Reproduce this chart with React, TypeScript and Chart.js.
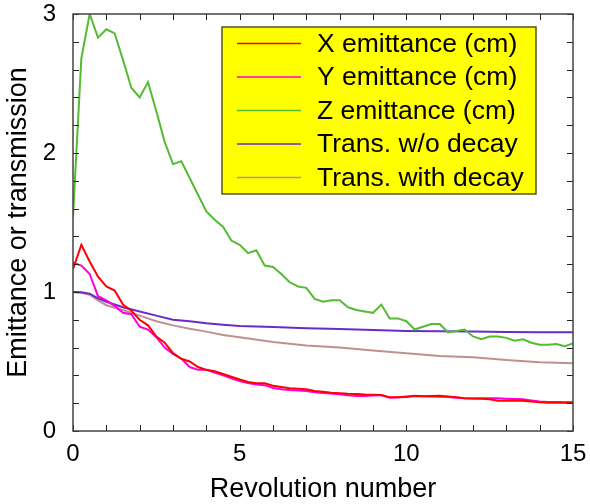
import React, { useEffect, useRef } from "react";
import { Chart, registerables } from "chart.js";

Chart.register(...registerables);

const revolution = [
  0, 0.25, 0.5, 0.75, 1, 1.25, 1.5, 1.75, 2, 2.25, 2.5, 2.75, 3, 3.25, 3.5, 3.75, 4, 4.25, 4.5, 4.75,
  5, 5.25, 5.5, 5.75, 6, 6.25, 6.5, 6.75, 7, 7.25, 7.5, 7.75, 8, 8.25, 8.5, 8.75, 9, 9.25, 9.5, 9.75,
  10, 10.25, 10.5, 10.75, 11, 11.25, 11.5, 11.75, 12, 12.25, 12.5, 12.75, 13, 13.25, 13.5, 13.75, 14,
  14.25, 14.5, 14.75, 15,
];

const xEmittance = [
  1.165, 1.34, 1.22, 1.11, 1.04, 1.01, 0.91, 0.865, 0.8, 0.76, 0.68, 0.635, 0.56, 0.52, 0.5, 0.46, 0.44,
  0.43, 0.41, 0.39, 0.37, 0.352, 0.343, 0.343, 0.326, 0.316, 0.307, 0.304, 0.3, 0.288, 0.283, 0.276,
  0.272, 0.268, 0.266, 0.262, 0.26, 0.259, 0.242, 0.242, 0.245, 0.252, 0.25, 0.252, 0.254, 0.248, 0.242,
  0.236, 0.234, 0.232, 0.228, 0.218, 0.218, 0.219, 0.218, 0.212, 0.206, 0.204, 0.205, 0.204, 0.204,
];

const yEmittance = [
  1.21, 1.19, 1.13, 0.97, 0.94, 0.9, 0.85, 0.84, 0.75, 0.73, 0.675, 0.6, 0.555, 0.52, 0.46, 0.44, 0.44,
  0.42, 0.4, 0.38, 0.36, 0.345, 0.335, 0.33, 0.31, 0.3, 0.295, 0.292, 0.288, 0.278, 0.274, 0.27, 0.265,
  0.258, 0.252, 0.252, 0.255, 0.259, 0.24, 0.242, 0.248, 0.254, 0.25, 0.248, 0.247, 0.244, 0.24, 0.235,
  0.234, 0.235, 0.236, 0.235, 0.232, 0.23, 0.228, 0.22, 0.212, 0.208, 0.208, 0.207, 0.208,
];

const zEmittance = [
  1.54, 2.68, 3.0, 2.83, 2.89, 2.86, 2.67, 2.47, 2.4, 2.51, 2.3, 2.08, 1.92, 1.94, 1.82, 1.7, 1.58, 1.52,
  1.47, 1.37, 1.34, 1.28, 1.3, 1.19, 1.18, 1.13, 1.07, 1.04, 1.03, 0.95, 0.93, 0.94, 0.94, 0.89, 0.87,
  0.86, 0.85, 0.91, 0.81, 0.81, 0.79, 0.73, 0.75, 0.77, 0.77, 0.71, 0.72, 0.73, 0.68, 0.66, 0.68, 0.68,
  0.67, 0.65, 0.66, 0.635, 0.62, 0.62, 0.625, 0.61, 0.63,
];

const transRevolution = [0, 0.25, 0.5, 0.75, 1, 1.5, 2, 2.5, 3, 3.5, 4, 4.5, 5, 6, 7, 8, 9, 10, 11, 12, 13, 14, 15];
const transNoDecay = [
  1.0, 0.998, 0.988, 0.955, 0.93, 0.89, 0.86, 0.83, 0.8, 0.79, 0.775, 0.765, 0.755, 0.748, 0.74, 0.733,
  0.727, 0.72, 0.718, 0.715, 0.713, 0.711, 0.71,
];
const transWithDecay = [
  1.0, 0.995, 0.98, 0.94, 0.905, 0.87, 0.83, 0.79, 0.76, 0.735, 0.715, 0.69, 0.675, 0.64, 0.615, 0.6,
  0.58, 0.56, 0.54, 0.53, 0.51, 0.495, 0.487,
];

const seriesLabels = [
  "X emittance (cm)",
  "Y emittance (cm)",
  "Z emittance (cm)",
  "Trans. w/o decay",
  "Trans. with decay",
];
const seriesColors = ["#ff0000", "#ff00dd", "#55bb33", "#6a2bc8", "#c09090"];

const xMinorTicks = [0, 1, 2, 3, 4, 5, 6, 7, 8, 9, 10, 11, 12, 13, 14, 15];
const yMinorTicks = [0, 0.2, 0.4, 0.6, 0.8, 1, 1.2, 1.4, 1.6, 1.8, 2, 2.2, 2.4, 2.6, 2.8, 3];

const FONT = "'Liberation Sans', Arial, sans-serif";

const pairs = (xs: number[], ys: number[]) => ys.map((y, i) => ({ x: xs[i], y }));

const framePlugin = {
  id: "frameTicksLegend",
  afterDraw(chart: any) {
    const { ctx, chartArea } = chart;
    const xs = chart.scales.x;
    const ys = chart.scales.y;
    const { left, right, top, bottom } = chartArea;
    ctx.save();
    // ticks
    ctx.strokeStyle = "#222";
    ctx.lineWidth = 1;
    const len = 6;
    ctx.beginPath();
    xMinorTicks.forEach((v) => {
      const px = Math.round(xs.getPixelForValue(v)) + 0.5;
      ctx.moveTo(px, bottom);
      ctx.lineTo(px, bottom - len);
      ctx.moveTo(px, top);
      ctx.lineTo(px, top + len);
    });
    yMinorTicks.forEach((v) => {
      const py = Math.round(ys.getPixelForValue(v)) + 0.5;
      ctx.moveTo(left, py);
      ctx.lineTo(left + len, py);
      ctx.moveTo(right, py);
      ctx.lineTo(right - len, py);
    });
    ctx.stroke();
    // frame
    ctx.strokeStyle = "#444";
    ctx.lineWidth = 1.5;
    ctx.strokeRect(left, top, right - left, bottom - top);

    // legend
    const lx = left + 149;
    const ly = top + 13;
    const lw = 314;
    const lh = 167;
    ctx.fillStyle = "#ffff00";
    ctx.fillRect(lx, ly, lw, lh);
    ctx.strokeStyle = "#555522";
    ctx.lineWidth = 1.5;
    ctx.strokeRect(lx, ly, lw, lh);
    ctx.font = `26.5px ${FONT}`;
    ctx.textBaseline = "middle";
    ctx.textAlign = "left";
    chart.data.datasets.forEach((ds: any, i: number) => {
      const ry = ly + 16.5 + i * 33.5;
      ctx.strokeStyle = ds.borderColor;
      ctx.lineWidth = 1.6;
      ctx.beginPath();
      ctx.moveTo(lx + 15, ry);
      ctx.lineTo(lx + 79, ry);
      ctx.stroke();
      ctx.fillStyle = "#000";
      ctx.fillText(ds.label, lx + 95, ry + 1);
    });
    ctx.restore();
  },
};

export default function App() {
  const ref = useRef<HTMLCanvasElement | null>(null);

  useEffect(() => {
    if (!ref.current) return;
    const seriesData = [
      pairs(revolution, xEmittance),
      pairs(revolution, yEmittance),
      pairs(revolution, zEmittance),
      pairs(transRevolution, transNoDecay),
      pairs(transRevolution, transWithDecay),
    ];
    const chart = new Chart(ref.current, {
      type: "line",
      data: {
        datasets: seriesData.map((d, i) => ({
          label: seriesLabels[i],
          data: d,
          borderColor: seriesColors[i],
          backgroundColor: seriesColors[i],
          borderWidth: 2,
          pointRadius: 0,
          tension: 0,
          fill: false,
        })),
      },
      options: {
        animation: false,
        responsive: false,
        devicePixelRatio: 1,
        layout: { padding: { top: 14, right: 17, left: 0, bottom: 0 } },
        plugins: { legend: { display: false }, tooltip: { enabled: false } },
        scales: {
          x: {
            type: "linear",
            min: 0,
            max: 15,
            grid: { display: false, drawTicks: false },
            border: { display: false },
            ticks: { stepSize: 5, color: "#000", font: { family: FONT, size: 24 }, padding: 9, maxRotation: 0 },
            title: {
              display: true,
              text: "Revolution number",
              color: "#000",
              font: { family: FONT, size: 27 },
              padding: { top: 0, bottom: -2 },
            },
            afterFit: (s: any) => {
              s.height = 73;
              s.paddingLeft = 0;
              s.paddingRight = 0;
            },
          },
          y: {
            type: "linear",
            min: 0,
            max: 3,
            grid: { display: false, drawTicks: false },
            border: { display: false },
            ticks: { stepSize: 1, color: "#000", font: { family: FONT, size: 24 }, padding: 17 },
            title: {
              display: true,
              text: "Emittance or transmission",
              color: "#000",
              font: { family: FONT, size: 27 },
              padding: { top: 2, bottom: 0 },
            },
            afterFit: (s: any) => {
              s.width = 73;
              s.paddingTop = 0;
              s.paddingBottom = 0;
            },
          },
        },
      },
      plugins: [framePlugin],
    });
    return () => chart.destroy();
  }, []);

  return (
    <div style={{ position: "absolute", left: 0, top: 0, width: 590, height: 504, background: "#fff" }}>
      <canvas ref={ref} width={590} height={504} style={{ display: "block" }} />
    </div>
  );
}
